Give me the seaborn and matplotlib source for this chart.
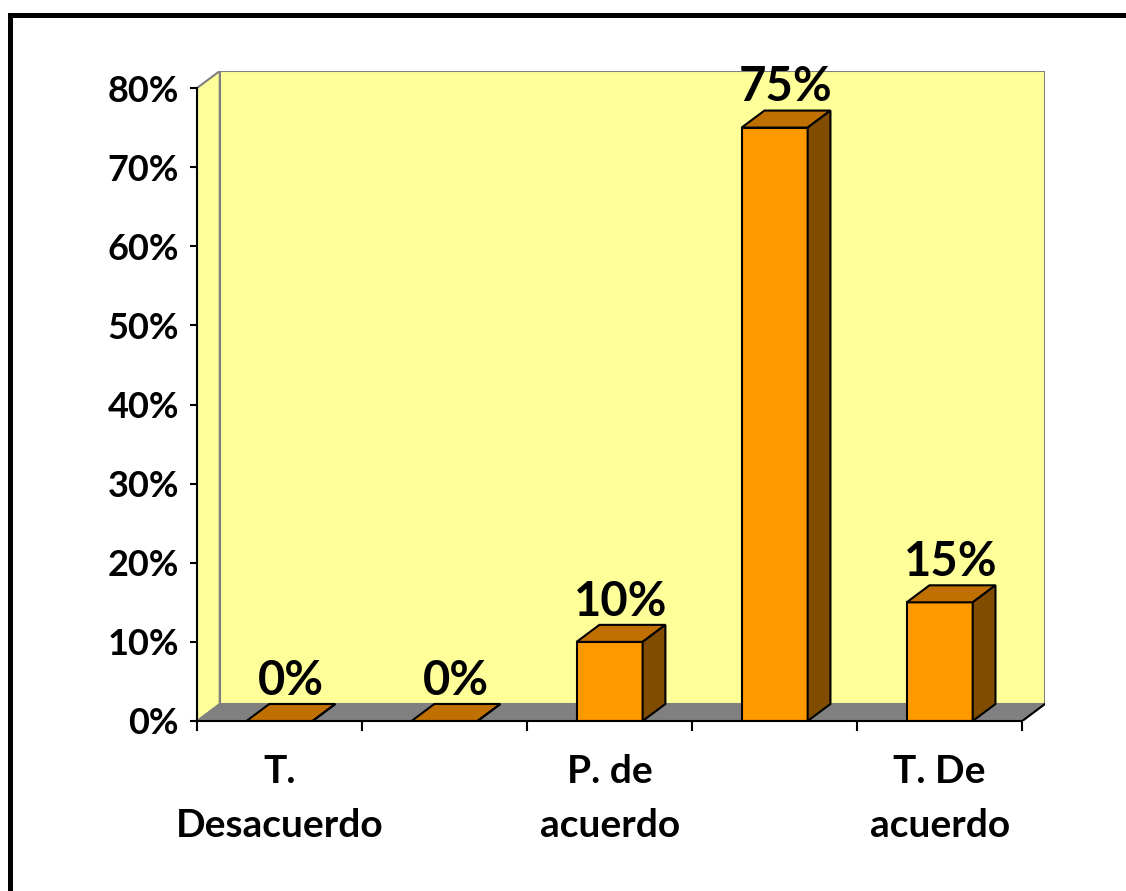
import matplotlib.pyplot as plt
import seaborn as sns
from matplotlib.patches import Polygon, Rectangle

# Datos del grafico
categorias = ["c1", "c2", "c3", "c4", "c5"]
etiquetas = ["T.\nDesacuerdo", "", "P. de\nacuerdo", "", "T. De\nacuerdo"]
porcentajes = [0, 0, 10, 75, 15]
marcas_y = [0, 10, 20, 30, 40, 50, 60, 70, 80]

plt.rcParams['font.family'] = ['Lato', 'DejaVu Sans']

# profundidad del efecto 3D (unidades de datos)
dx = 0.138
dy = 2.15
ymax = marcas_y[-1]

fig = plt.figure(figsize=(11.26, 8.91), dpi=100)
ax = fig.add_axes([197 / 1126, 170 / 891, (1045 - 197) / 1126, 650 / 891])
ax.patch.set_visible(False)

sns.barplot(x=categorias, y=porcentajes, color='#FF9900', saturation=1,
            width=0.4, edgecolor='black', linewidth=1.5, ax=ax, zorder=3)
barras = list(ax.patches)

n = len(categorias)
x_ini, x_fin = -0.5, n - 0.5

# paredes y piso
ax.add_patch(Polygon([(x_ini, 0), (x_ini + dx, dy), (x_ini + dx, ymax + dy), (x_ini, ymax)],
                     fc='#FFFF99', ec='#808080', lw=1.5, zorder=0))
ax.add_patch(Rectangle((x_ini + dx, dy), n, ymax, fc='#FFFF99', ec='#808080', lw=1.5, zorder=0))
ax.add_patch(Polygon([(x_ini, 0), (x_fin, 0), (x_fin + dx, dy), (x_ini + dx, dy)],
                     fc='#808080', ec='#808080', lw=1, zorder=1))
ax.plot([x_fin, x_fin + dx], [0, dy], color='black', lw=1.5, zorder=2)

# caras superior y lateral de cada barra
for p, v in zip(barras, porcentajes):
    x0, w, h = p.get_x(), p.get_width(), p.get_height()
    ax.add_patch(Polygon([(x0, h), (x0 + w, h), (x0 + w + dx, h + dy), (x0 + dx, h + dy)],
                         fc='#C07000', ec='black', lw=1.5, zorder=4))
    ax.add_patch(Polygon([(x0 + w, 0), (x0 + w + dx, dy), (x0 + w + dx, h + dy), (x0 + w, h)],
                         fc='#7F4C00', ec='black', lw=1.5, zorder=4))
    ax.text(x0 + w / 2 + dx / 2, h + 3.3, f"{v}%", ha='center', va='baseline',
            fontsize=34, fontweight='bold', color='black', zorder=5)

ax.set_xlim(x_ini, x_fin + dx)
ax.set_ylim(0, ymax + dy)

for s in ['top', 'right']:
    ax.spines[s].set_visible(False)
ax.spines['left'].set_bounds(0, ymax)
ax.spines['bottom'].set_bounds(x_ini, x_fin)
for s in ['left', 'bottom']:
    ax.spines[s].set_color('black')
    ax.spines[s].set_linewidth(1.5)
    ax.spines[s].set_zorder(6)

ax.set_yticks(marcas_y, [f"{v}%" for v in marcas_y], fontsize=26, fontweight='bold')
ax.tick_params(axis='y', length=5, width=1.5, pad=8, colors='black')

ax.set_xticks([x_ini + i for i in range(n + 1)], [""] * (n + 1))
ax.set_xticks(range(n), etiquetas, minor=True, fontsize=28, fontweight='bold',
              linespacing=1.65)
ax.tick_params(axis='x', which='major', length=7, width=1.5, colors='black')
ax.tick_params(axis='x', which='minor', length=0, pad=24, colors='black')
ax.set_xlabel("")
ax.set_ylabel("")

# marco negro del grafico
fig.add_artist(Rectangle((9.5 / 1126, -0.1), 1.2, (891 - 14.5) / 891 + 0.1,
                         transform=fig.transFigure, fill=False, ec='black', lw=3.6))

fig.savefig('out.png', dpi=100)
